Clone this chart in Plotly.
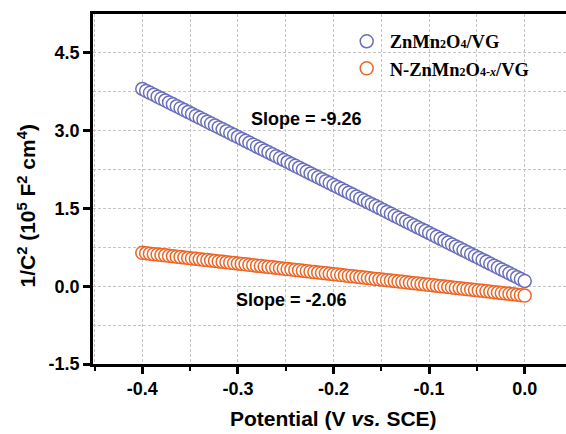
import plotly.graph_objects as go

# Mott-Schottky data: potential (V vs. SCE) and 1/C^2 (10^5 F^-2 cm^4)
potential = [
    -0.400, -0.396, -0.392, -0.388, -0.384, -0.380, -0.376, -0.372, -0.368, -0.364,
    -0.360, -0.356, -0.352, -0.348, -0.344, -0.340, -0.336, -0.332, -0.328, -0.324,
    -0.320, -0.316, -0.312, -0.308, -0.304, -0.300, -0.296, -0.292, -0.288, -0.284,
    -0.280, -0.276, -0.272, -0.268, -0.264, -0.260, -0.256, -0.252, -0.248, -0.244,
    -0.240, -0.236, -0.232, -0.228, -0.224, -0.220, -0.216, -0.212, -0.208, -0.204,
    -0.200, -0.196, -0.192, -0.188, -0.184, -0.180, -0.176, -0.172, -0.168, -0.164,
    -0.160, -0.156, -0.152, -0.148, -0.144, -0.140, -0.136, -0.132, -0.128, -0.124,
    -0.120, -0.116, -0.112, -0.108, -0.104, -0.100, -0.096, -0.092, -0.088, -0.084,
    -0.080, -0.076, -0.072, -0.068, -0.064, -0.060, -0.056, -0.052, -0.048, -0.044,
    -0.040, -0.036, -0.032, -0.028, -0.024, -0.020, -0.016, -0.012, -0.008, -0.004,
    0.000,
]

znmn2o4_vg = [
    3.804, 3.767, 3.730, 3.693, 3.656, 3.619, 3.582, 3.545, 3.508, 3.471,
    3.434, 3.397, 3.360, 3.322, 3.285, 3.248, 3.211, 3.174, 3.137, 3.100,
    3.063, 3.026, 2.989, 2.952, 2.915, 2.878, 2.841, 2.804, 2.767, 2.730,
    2.693, 2.656, 2.619, 2.582, 2.545, 2.508, 2.471, 2.434, 2.396, 2.359,
    2.322, 2.285, 2.248, 2.211, 2.174, 2.137, 2.100, 2.063, 2.026, 1.989,
    1.952, 1.915, 1.878, 1.841, 1.804, 1.767, 1.730, 1.693, 1.656, 1.619,
    1.582, 1.545, 1.508, 1.471, 1.433, 1.396, 1.359, 1.322, 1.285, 1.248,
    1.211, 1.174, 1.137, 1.100, 1.063, 1.026, 0.989, 0.952, 0.915, 0.878,
    0.841, 0.804, 0.767, 0.730, 0.693, 0.656, 0.619, 0.582, 0.545, 0.508,
    0.470, 0.433, 0.396, 0.359, 0.322, 0.285, 0.248, 0.211, 0.174, 0.137,
    0.100,
]

n_znmn2o4x_vg = [
    0.644, 0.636, 0.628, 0.619, 0.611, 0.603, 0.595, 0.586, 0.578, 0.570,
    0.562, 0.553, 0.545, 0.537, 0.529, 0.520, 0.512, 0.504, 0.496, 0.487,
    0.479, 0.471, 0.463, 0.454, 0.446, 0.438, 0.430, 0.422, 0.413, 0.405,
    0.397, 0.389, 0.380, 0.372, 0.364, 0.356, 0.347, 0.339, 0.331, 0.323,
    0.314, 0.306, 0.298, 0.290, 0.281, 0.273, 0.265, 0.257, 0.248, 0.240,
    0.232, 0.224, 0.215, 0.207, 0.199, 0.191, 0.183, 0.174, 0.166, 0.158,
    0.150, 0.141, 0.133, 0.125, 0.117, 0.108, 0.100, 0.092, 0.084, 0.075,
    0.067, 0.059, 0.051, 0.042, 0.034, 0.026, 0.018, 0.009, 0.001, -0.007,
    -0.015, -0.023, -0.032, -0.040, -0.048, -0.056, -0.065, -0.073, -0.081, -0.089,
    -0.098, -0.106, -0.114, -0.122, -0.131, -0.139, -0.147, -0.155, -0.164, -0.172,
    -0.180,
]

x_tick_values = [-0.4, -0.3, -0.2, -0.1, 0.0]
x_tick_labels = ["-0.4", "-0.3", "-0.2", "-0.1", "0.0"]
y_tick_values = [-1.5, 0.0, 1.5, 3.0, 4.5]
y_tick_labels = ["-1.5", "0.0", "1.5", "3.0", "4.5"]

SUB = '<span style="font-size:12px">{}</span>'
series_names = [
    "ZnMn" + SUB.format("2") + "O" + SUB.format("4") + "/VG",
    "N-ZnMn" + SUB.format("2") + "O" + SUB.format("4-<i>x</i>") + "/VG",
]
series_colors = ["#6A6FBA", "#EE6424"]
slope_labels = ["Slope = -9.26", "Slope = -2.06"]

SANS = "Arial, Liberation Sans, sans-serif"
SERIF = "Times New Roman, Liberation Serif, serif"

fig = go.Figure()
for name, ys, color in zip(series_names, [znmn2o4_vg, n_znmn2o4x_vg], series_colors):
    fig.add_trace(go.Scatter(
        x=potential, y=ys, mode="markers", name=name,
        marker=dict(symbol="circle", size=13, color="white",
                    line=dict(color=color, width=1.5)),
    ))

grid_style = dict(showgrid=True, gridcolor="#C4C4C4", gridwidth=1, griddash="3px,2px")

axis_common = dict(
    showline=True, linecolor="black", linewidth=2.5,
    ticks="outside", ticklen=7, tickwidth=2.5, tickcolor="black",
    zeroline=False,
    tickfont=dict(family=SANS, size=18, color="black", weight="bold"),
    **grid_style,
)

fig.update_xaxes(
    range=[-0.4516, 0.0432],
    tickmode="array", tickvals=x_tick_values, ticktext=x_tick_labels,
    mirror=True,
    minor=dict(dtick=0.05, tick0=0, ticks="outside", ticklen=4, tickwidth=2,
               tickcolor="black", **grid_style),
    **axis_common,
)
fig.update_yaxes(
    range=[-1.5, 5.25],
    tickmode="array", tickvals=y_tick_values, ticktext=y_tick_labels,
    minor=dict(dtick=0.75, tick0=0, ticks="", **grid_style),
    **axis_common,
)

annotations = [
    dict(x=-0.228, y=3.23, xref="x", yref="y", text=slope_labels[0],
         showarrow=False, font=dict(family=SANS, size=18, color="black", weight="bold")),
    dict(x=-0.244, y=-0.26, xref="x", yref="y", text=slope_labels[1],
         showarrow=False, font=dict(family=SANS, size=18, color="black", weight="bold")),
    dict(x=0.508, y=-0.157, xref="paper", yref="paper",
         text="Potential (V <i>vs.</i> SCE)", showarrow=False,
         xanchor="center", yanchor="middle",
         font=dict(family=SANS, size=21, color="black", weight="bold")),
    dict(x=-0.1416, y=0.45, xref="paper", yref="paper", textangle=-90,
         text="1/C<sup>2</sup> (10<sup>5</sup> F<sup>2</sup> cm<sup>4</sup>)",
         showarrow=False, xanchor="center", yanchor="middle",
         font=dict(family=SANS, size=21, color="black", weight="bold")),
]

fig.update_layout(
    width=566, height=434,
    margin=dict(l=93, r=0, t=14, b=70),
    paper_bgcolor="white", plot_bgcolor="white",
    showlegend=True,
    legend=dict(x=0.53, y=0.975, xanchor="left", yanchor="top",
                bgcolor="rgba(0,0,0,0)", borderwidth=0, itemwidth=36,
                font=dict(family=SERIF, size=18.5, color="black", weight="bold"),
                itemsizing="trace"),
    annotations=annotations,
)

fig.write_html("out.html")
